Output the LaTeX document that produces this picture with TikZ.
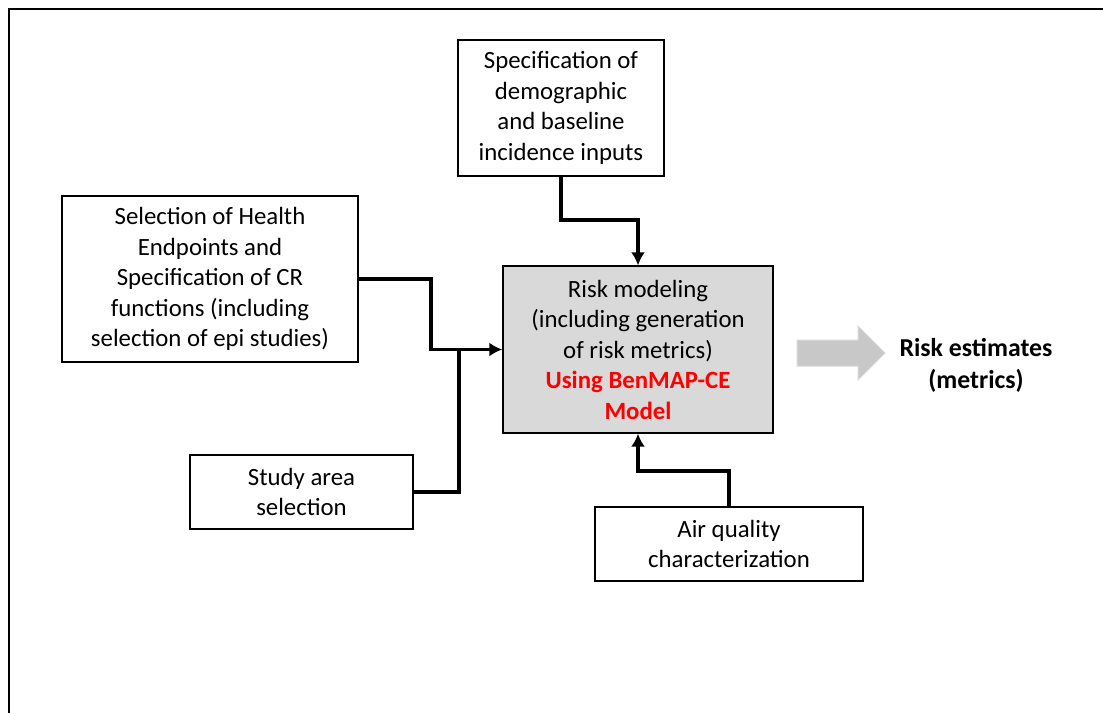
\documentclass[tikz,border=0pt]{standalone}
\usepackage{fontspec}
\setmainfont{Carlito}
\usetikzlibrary{arrows.meta}
\definecolor{boxgray}{HTML}{D9D9D9}
\definecolor{arrgray}{HTML}{C8C8C8}
\tikzset{
  box/.style={draw=black, line width=1.3pt, fill=white, align=center, inner sep=0pt,
    font=\fontsize{24.8}{30.5}\selectfont},
  conn/.style={line width=3.5pt, -{Latex[length=13pt,width=14pt]}},
  plain/.style={line width=3.5pt},
}
\begin{document}
\begin{tikzpicture}[x=1pt,y=-1pt]
\useasboundingbox (0,0) rectangle (1103,713);
\draw[line width=2pt] (9,713) -- (9,9) -- (1103,9);

\node[box, minimum width=206pt, minimum height=136pt] (top) at (561,108)
  {Specification of\\demographic\\and baseline\\incidence inputs};
\node[box, minimum width=296pt, minimum height=166pt] (left) at (210,279)
  {Selection of Health\\Endpoints and\\Specification of CR\\functions (including\\selection of epi studies)};
\node[box, fill=boxgray, minimum width=270pt, minimum height=167pt] (center) at (638,349.5)
  {Risk modeling\\(including generation\\of risk metrics)\\{\color{red}\bfseries Using BenMAP-CE}\\{\color{red}\bfseries Model}};
\node[box, minimum width=223pt, minimum height=74pt] (study) at (301.5,492)
  {Study area\\selection};
\node[box, minimum width=268pt, minimum height=74pt] (air) at (729,544)
  {Air quality\\characterization};

\node[align=center, font=\fontsize{25.8}{31.5}\selectfont\bfseries] (risk) at (976,365.5)
  {Risk estimates\\(metrics)};

% gray block arrow
\draw[draw=arrgray!70, fill=arrgray, line width=1pt]
  (797,340) -- (858,340) -- (858,326) -- (885,353) -- (858,380) -- (858,366) -- (797,366) -- cycle;

\coordinate (jl) at (431,279);
\coordinate (jn) at (459,350);
\coordinate (jt) at (561,220);
\coordinate (ja) at (729,471);

\draw[conn] (left.east) -- (jl) |- (center.west);
\draw[plain] (study.east) -| (jn);
\draw[conn] (top.south) -- (jt) -| (center.north);
\draw[conn] (air.north) -- (ja) -| (center.south);
\end{tikzpicture}
\end{document}
